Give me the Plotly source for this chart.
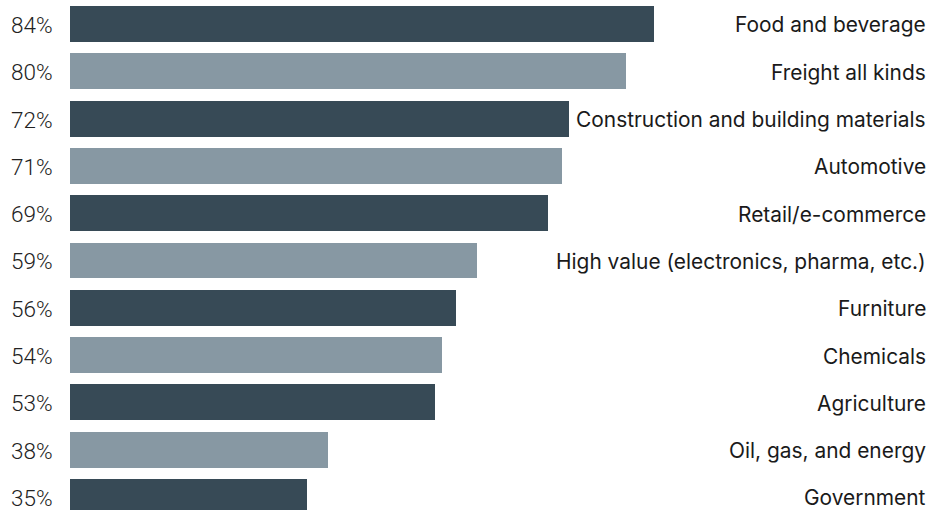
import plotly.graph_objects as go

# Share of respondents by industry segment
categories = [
    "Food and beverage",
    "Freight all kinds",
    "Construction and building materials",
    "Automotive",
    "Retail/e-commerce",
    "High value (electronics, pharma, etc.)",
    "Furniture",
    "Chemicals",
    "Agriculture",
    "Oil, gas, and energy",
    "Government",
]
values = [84, 80, 72, 71, 69, 59, 56, 54, 53, 38, 35]
value_labels = [f"{v}%" for v in values]

DARK = "#374A56"
LIGHT = "#8798A3"
bar_colors = [DARK if i % 2 == 0 else LIGHT for i in range(len(values))]

fig = go.Figure(
    go.Bar(
        x=values,
        y=categories,
        orientation="h",
        marker=dict(color=bar_colors, line=dict(width=0)),
        width=0.76,
        hoverinfo="skip",
    )
)

# category names, right-aligned at the far edge
for cat in categories:
    fig.add_annotation(
        x=1, xref="paper", xanchor="right", xshift=-14,
        y=cat, yref="y", yanchor="middle", yshift=-1,
        text=cat, showarrow=False,
        font=dict(family="Inter", size=20.9, color="#1a1a1a"),
    )

# percentage labels to the left of the bars
for cat, lab in zip(categories, value_labels):
    fig.add_annotation(
        x=0, xref="paper", xanchor="right", xshift=-15,
        y=cat, yref="y", yanchor="middle", yshift=-1,
        text=lab, showarrow=False,
        font=dict(family="Roboto", size=22.5, color="#222222", weight=300),
    )

fig.update_xaxes(range=[1.5, 124.7], visible=False, fixedrange=True)
fig.update_yaxes(
    categoryorder="array", categoryarray=categories,
    range=[10.275, -0.507], visible=False, fixedrange=True,
)
fig.update_layout(
    width=942, height=510,
    margin=dict(l=70, r=0, t=0, b=0),
    plot_bgcolor="white", paper_bgcolor="white",
    showlegend=False,
    bargap=0,
)

fig.write_html("out.html", config={"displayModeBar": False})
